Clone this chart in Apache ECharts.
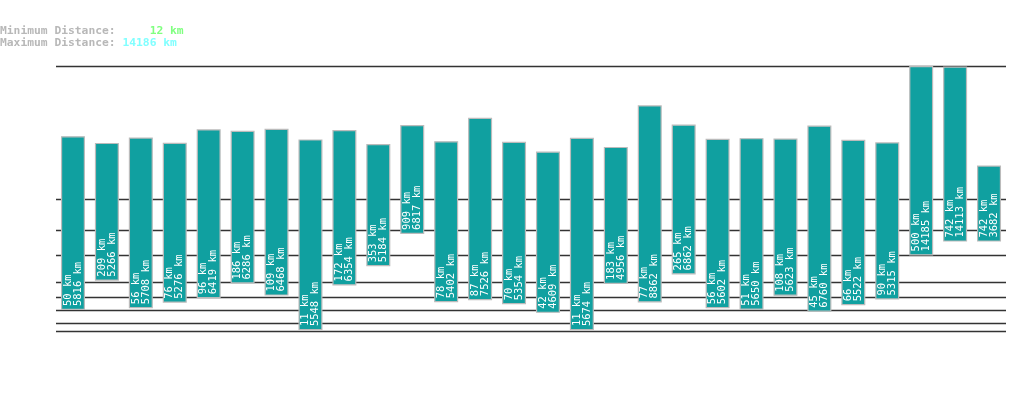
<!DOCTYPE html>
<html>
<head>
<meta charset="utf-8">
<script src="https://cdn.jsdelivr.net/npm/echarts@6/dist/echarts.min.js"></script>
<style>html,body{margin:0;padding:0;background:#fff}#c{width:1019px;height:402px}</style>
</head>
<body>
<div id="c"></div>
<script>
var categories = ['1','2','3','4','5','6','7','8','9','10','11','12','13','14','15','16','17','18','19','20','21','22','23','24','25','26','27','28'];
var minDist = [50,209,56,76,96,186,109,11,172,353,909,78,87,70,42,11,183,77,265,56,51,108,45,66,90,500,742,742];
var maxDist = [5816,5266,5708,5276,6419,6286,6468,5548,6354,5184,6817,5402,7526,5354,4609,5674,4956,8862,6862,5602,5650,5623,6760,5522,5315,14185,14113,3682];
var gridValues = [10,20,50,100,200,500,1000,2000];
var overallMin = 12;
var overallMax = 14186;
var EXP = 0.3;
function sc(v){ return Math.pow(v, EXP); }

var baseData = minDist.map(function(v){ return sc(v); });
var rangeData = maxDist.map(function(v,i){ return sc(v) - sc(minDist[i]); });
var FONT = '"DejaVu Sans Mono", "Liberation Mono", monospace';
var HF = 'bold 11.3px ' + FONT;

var chart = echarts.init(document.getElementById('c'));
chart.setOption({
  animation: false,
  backgroundColor: '#fff',
  grid: { left: 56, right: 13, top: 66, bottom: 37 },
  xAxis: { type: 'category', data: categories, show: false, boundaryGap: true },
  yAxis: { type: 'value', min: 0, max: sc(overallMax), show: false, splitLine: { show: false } },
  graphic: [{
    type: 'text', left: 0, top: 25, z: 10,
    style: {
      text: '{l|Minimum Distance:}{g|     ' + overallMin + ' km}\n{l|Maximum Distance:}{c| ' + overallMax + ' km}',
      font: HF, lineHeight: 12,
      rich: {
        l: { fill: '#b8b8b8', font: HF, lineHeight: 12 },
        g: { fill: '#80ff80', font: HF, lineHeight: 12 },
        c: { fill: '#80ffff', font: HF, lineHeight: 12 }
      }
    }
  }],
  series: [{
    type: 'bar', stack: 'r', data: baseData, barWidth: 24, z: 1,
    itemStyle: { color: 'rgba(0,0,0,0)' }, silent: true,
    markLine: {
      silent: true, symbol: 'none', label: { show: false }, z: 0,
      lineStyle: { color: '#333', width: 1.3, type: 'solid' },
      data: gridValues.concat([overallMax]).map(function(v){ return { yAxis: sc(v) }; })
    }
  }, {
    type: 'bar', stack: 'r', data: rangeData, barWidth: 24, z: 3,
    itemStyle: { color: '#10a0a0', borderColor: '#bbbbbb', borderWidth: 1.2 },
    label: {
      show: true, position: 'insideBottom', rotate: 90, align: 'left', verticalAlign: 'middle',
      distance: 4, color: '#ffffff', fontFamily: FONT, fontSize: 10.5, lineHeight: 10,
      formatter: function(p){ return minDist[p.dataIndex] + ' km\n' + maxDist[p.dataIndex] + ' km'; }
    }
  }]
});
</script>
</body>
</html>
